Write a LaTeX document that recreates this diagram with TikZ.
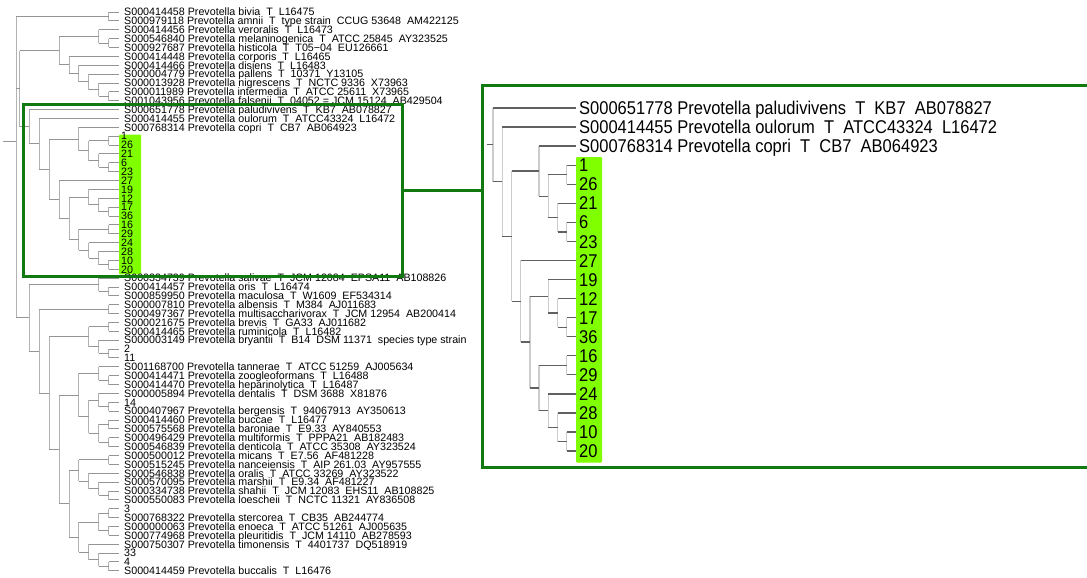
\documentclass[tikz,border=0pt]{standalone}
\usepackage{fontspec}
\setmainfont{Liberation Sans}
\usetikzlibrary{calc,fit}
\definecolor{framegreen}{HTML}{107A10}
\definecolor{hilite}{HTML}{80FF00}
\newcommand\dsp{\ \ }
\newcommand\tallR[1]{\scalebox{1}[1.12]{#1}}
% binary tree node: #1 panel (L/R), #2 name, #3 x, #4 child a, #5 child b
\newcommand\bnode[5]{%
  \path let \p1=($(#4)!0.5!(#5)$) in (#3pt,\y1) coordinate (#2);
  \draw[vline#1] (#2 |- #4) -- (#2 |- #5);
  \draw[hline#1] (#2 |- #4) -- (#4);
  \draw[hline#1] (#2 |- #5) -- (#5);
}
\tikzset{
  hlineL/.style={draw=black!42, line width=0.9pt},
  vlineL/.style={draw=black!30, line width=0.9pt},
  hlineR/.style={draw=black!62, line width=1.3pt},
  vlineR/.style={draw=black!20, line width=1.3pt},
  leafL/.style={anchor=west, inner ysep=0pt, inner xsep=5.5pt, text height=7.6pt, text depth=0pt,
    font=\fontsize{10.7}{11}\selectfont, text=black},
  numL/.style={leafL, inner xsep=2.5pt},
  leafR/.style={anchor=west, inner ysep=0pt, inner xsep=3pt, text height=13.2pt, text depth=0pt,
    font=\fontsize{16.5}{18}\selectfont, text=black},
  zoomframe/.style={draw=framegreen, line width=3pt, inner sep=0pt},
  zoomline/.style={draw=framegreen, line width=3pt},
  hilitebox/.style={fill=hilite, rounded corners=1pt}
}
\begin{document}
\begin{tikzpicture}[x=1pt,y=-1pt]
\useasboundingbox (0,0) rectangle (1087,578);
\clip (0,0) rectangle (1087,578);
\fill[white] (0,0) rectangle (1087,578);

% highlight bars
\fill[hilitebox] (119,134.5) rectangle (141,274.3);
\fill[hilitebox] (576,157) rectangle (602,462.5);

% ---------------- left tree: leaves ----------------
\foreach \lab [count=\i] in {
 S000414458 Prevotella bivia\dsp T\dsp L16475,
 S000979118 Prevotella amnii\dsp T\dsp type strain\dsp CCUG 53648\dsp AM422125,
 S000414456 Prevotella veroralis\dsp T\dsp L16473,
 S000546840 Prevotella melaninogenica\dsp T\dsp ATCC 25845\dsp AY323525,
 S000927687 Prevotella histicola\dsp T\dsp T05−04\dsp EU126661,
 S000414448 Prevotella corporis\dsp T\dsp L16465,
 S000414466 Prevotella disiens\dsp T\dsp L16483,
 S000004779 Prevotella pallens\dsp T\dsp 10371\dsp Y13105,
 S000013928 Prevotella nigrescens\dsp T\dsp NCTC 9336\dsp X73963,
 S000011989 Prevotella intermedia\dsp T\dsp ATCC 25611\dsp X73965,
 S001043956 Prevotella falsenii\dsp T\dsp 04052 = JCM 15124\dsp AB429504,
 S000651778 Prevotella paludivivens\dsp T\dsp KB7\dsp AB078827,
 S000414455 Prevotella oulorum\dsp T\dsp ATCC43324\dsp L16472,
 S000768314 Prevotella copri\dsp T\dsp CB7\dsp AB064923}
  \node[leafL] (L\i) at (118.5,{12+(\i-1)*8.87}) {\lab};
\foreach \lab [count=\i from 15] in {1,26,21,6,23,27,19,12,17,36,16,29,24,28,10,20}
  \node[numL] (L\i) at (118.5,{12+(\i-1)*8.87}) {\lab};
\foreach \lab [count=\i from 31] in {
 S000334739 Prevotella salivae\dsp T\dsp JCM 12084\dsp EPSA11\dsp AB108826,
 S000414457 Prevotella oris\dsp T\dsp L16474,
 S000859950 Prevotella maculosa\dsp T\dsp W1609\dsp EF534314,
 S000007810 Prevotella albensis\dsp T\dsp M384\dsp AJ011683,
 S000497367 Prevotella multisaccharivorax\dsp T\dsp JCM 12954\dsp AB200414,
 S000021675 Prevotella brevis\dsp T\dsp GA33\dsp AJ011682,
 S000414465 Prevotella ruminicola\dsp T\dsp L16482,
 S000003149 Prevotella bryantii\dsp T\dsp B14\dsp DSM 11371\dsp species type strain,
 2,
 11,
 S001168700 Prevotella tannerae\dsp T\dsp ATCC 51259\dsp AJ005634,
 S000414471 Prevotella zoogleoformans\dsp T\dsp L16488,
 S000414470 Prevotella heparinolytica\dsp T\dsp L16487,
 S000005894 Prevotella dentalis\dsp T\dsp DSM 3688\dsp X81876,
 14,
 S000407967 Prevotella bergensis\dsp T\dsp 94067913\dsp AY350613,
 S000414460 Prevotella buccae\dsp T\dsp L16477,
 S000575568 Prevotella baroniae\dsp T\dsp E9.33\dsp AY840553,
 S000496429 Prevotella multiformis\dsp T\dsp PPPA21\dsp AB182483,
 S000546839 Prevotella denticola\dsp T\dsp ATCC 35308\dsp AY323524,
 S000500012 Prevotella micans\dsp T\dsp E7.56\dsp AF481228,
 S000515245 Prevotella nanceiensis\dsp T\dsp AIP 261.03\dsp AY957555,
 S000546838 Prevotella oralis\dsp T\dsp ATCC 33269\dsp AY323522,
 S000570095 Prevotella marshii\dsp T\dsp E9.34\dsp AF481227,
 S000334738 Prevotella shahii\dsp T\dsp JCM 12083\dsp EHS11\dsp AB108825,
 S000550083 Prevotella loescheii\dsp T\dsp NCTC 11321\dsp AY836508,
 3,
 S000768322 Prevotella stercorea\dsp T\dsp CB35\dsp AB244774,
 S000000063 Prevotella enoeca\dsp T\dsp ATCC 51261\dsp AJ005635,
 S000774968 Prevotella pleuritidis\dsp T\dsp JCM 14110\dsp AB278593,
 S000750307 Prevotella timonensis\dsp T\dsp 4401737\dsp DQ518919,
 33,
 4,
 S000414459 Prevotella buccalis\dsp T\dsp L16476}
  \node[leafL] (L\i) at (118.5,{12+(\i-1)*8.87}) {\lab};

% ---------------- left tree: internal nodes ----------------
\bnode{L}{a1}{108.6}{L1.west}{L2.west}
% clade B
\bnode{L}{b1}{108.6}{L4.west}{L5.west}
\bnode{L}{b2}{98.7}{L3.west}{b1}
\bnode{L}{b3}{108.6}{L10.west}{L11.west}
\bnode{L}{b4}{98.7}{L9.west}{b3}
\bnode{L}{b5}{88.8}{L8.west}{b4}
\bnode{L}{b6}{78.9}{L7.west}{b5}
\bnode{L}{b7}{69.0}{L6.west}{b6}
\bnode{L}{cladeB}{59.1}{b2}{b7}
% clade C (framed)
\bnode{L}{Lc1}{108.6}{L15.west}{L16.west}
\bnode{L}{Lc2}{108.6}{L18.west}{L19.west}
\bnode{L}{Lc3}{98.7}{L17.west}{Lc2}
\bnode{L}{Lc4}{88.8}{Lc1}{Lc3}
\bnode{L}{Lc5}{78.9}{L14.west}{Lc4}
\bnode{L}{Lc6}{108.6}{L23.west}{L24.west}
\bnode{L}{Lc7}{98.7}{L22.west}{Lc6}
\bnode{L}{Lc8}{88.8}{L21.west}{Lc7}
\bnode{L}{Lc9}{108.6}{L25.west}{L26.west}
\bnode{L}{Lc10}{108.6}{L29.west}{L30.west}
\bnode{L}{Lc11}{98.7}{L28.west}{Lc10}
\bnode{L}{Lc12}{88.8}{L27.west}{Lc11}
\bnode{L}{Lc13}{78.9}{Lc9}{Lc12}
\bnode{L}{Lc14}{69.0}{Lc8}{Lc13}
\bnode{L}{Lc15}{59.1}{L20.west}{Lc14}
\bnode{L}{Lc16}{49.2}{Lc5}{Lc15}
\bnode{L}{Lc17}{39.3}{L13.west}{Lc16}
\bnode{L}{cladeC}{29.4}{L12.west}{Lc17}
\bnode{L}{nBC}{19.5}{cladeB}{cladeC}
% clade D
\bnode{L}{d1}{108.6}{L32.west}{L33.west}
\bnode{L}{d2}{98.7}{L31.west}{d1}
\bnode{L}{d3}{108.6}{L34.west}{L35.west}
\bnode{L}{d4}{108.6}{L36.west}{L37.west}
\bnode{L}{d5}{108.6}{L39.west}{L40.west}
\bnode{L}{d6}{98.7}{L38.west}{d5}
\bnode{L}{d7}{88.8}{d4}{d6}
\bnode{L}{d8}{108.6}{L42.west}{L43.west}
\bnode{L}{d9}{98.7}{L41.west}{d8}
\bnode{L}{d10}{108.6}{L45.west}{L46.west}
\bnode{L}{d11}{98.7}{L44.west}{d10}
\bnode{L}{d12}{108.6}{L47.west}{L48.west}
\bnode{L}{d13}{108.6}{L49.west}{L50.west}
\bnode{L}{d14}{98.7}{d12}{d13}
\bnode{L}{d15}{88.8}{d11}{d14}
\bnode{L}{d16}{78.9}{d9}{d15}
\bnode{L}{d17}{108.6}{L51.west}{L52.west}
\bnode{L}{d18}{108.6}{L55.west}{L56.west}
\bnode{L}{d19}{98.7}{L54.west}{d18}
\bnode{L}{d20}{88.8}{L53.west}{d19}
\bnode{L}{d21}{78.9}{d17}{d20}
\bnode{L}{d22}{108.6}{L57.west}{L58.west}
\bnode{L}{d23}{108.6}{L59.west}{L60.west}
\bnode{L}{d24}{98.7}{d22}{d23}
\bnode{L}{d25}{108.6}{L63.west}{L64.west}
\bnode{L}{d26}{98.7}{L62.west}{d25}
\bnode{L}{d27}{88.8}{L61.west}{d26}
\bnode{L}{d28}{78.9}{d24}{d27}
\bnode{L}{d29}{69.0}{d21}{d28}
\bnode{L}{d30}{59.1}{d16}{d29}
\bnode{L}{d31}{49.2}{d7}{d30}
\bnode{L}{d32}{39.3}{d3}{d31}
\bnode{L}{cladeD}{29.4}{d2}{d32}
% root (trichotomy)
\path let \p1=($0.3333*(a1)+0.3333*(nBC)+0.3334*(cladeD)$) in (16pt,\y1) coordinate (root);
\coordinate (rootend) at (3,0);
\draw[vlineL] (root |- a1) -- (root |- cladeD);
\draw[hlineL] (root |- a1) -- (a1);
\draw[hlineL] (root |- nBC) -- (nBC);
\draw[hlineL] (root |- cladeD) -- (cladeD);
\draw[hlineL] (rootend |- root) -- (root);

% ---------------- right (zoomed) tree ----------------
\node[leafR] (R12) at (576,108) {\tallR{S000651778 Prevotella paludivivens\dsp T\dsp KB7\dsp AB078827}};
\node[leafR] (R13) at (576,{108+19.06}) {\tallR{S000414455 Prevotella oulorum\dsp T\dsp ATCC43324\dsp L16472}};
\node[leafR] (R14) at (576,{108+2*19.06}) {\tallR{S000768314 Prevotella copri\dsp T\dsp CB7\dsp AB064923}};
\foreach \lab [count=\i from 15] in {1,26,21,6,23,27,19,12,17,36,16,29,24,28,10,20}
  \node[leafR] (R\i) at (576,{108+(\i-12)*19.06}) {\tallR{\lab}};

\bnode{R}{Rc1}{566.8}{R15.west}{R16.west}
\bnode{R}{Rc2}{566.8}{R18.west}{R19.west}
\bnode{R}{Rc3}{557.6}{R17.west}{Rc2}
\bnode{R}{Rc4}{548.3}{Rc1}{Rc3}
\bnode{R}{Rc5}{539.1}{R14.west}{Rc4}
\bnode{R}{Rc6}{566.8}{R23.west}{R24.west}
\bnode{R}{Rc7}{557.6}{R22.west}{Rc6}
\bnode{R}{Rc8}{548.3}{R21.west}{Rc7}
\bnode{R}{Rc9}{566.8}{R25.west}{R26.west}
\bnode{R}{Rc10}{566.8}{R29.west}{R30.west}
\bnode{R}{Rc11}{557.6}{R28.west}{Rc10}
\bnode{R}{Rc12}{548.3}{R27.west}{Rc11}
\bnode{R}{Rc13}{539.1}{Rc9}{Rc12}
\bnode{R}{Rc14}{529.9}{Rc8}{Rc13}
\bnode{R}{Rc15}{520.7}{R20.west}{Rc14}
\bnode{R}{Rc16}{511.5}{Rc5}{Rc15}
\bnode{R}{Rc17}{502.2}{R13.west}{Rc16}
\bnode{R}{RcladeC}{493.0}{R12.west}{Rc17}
\coordinate (Rrootend) at (487,0);
\draw[hlineR] (Rrootend |- RcladeC) -- (RcladeC);

% ---------------- zoom frames and connector ----------------
\coordinate (srcNW) at (23,104);
\coordinate (srcSE) at (402.7,276.7);
\coordinate (dstNW) at (482,85);
\coordinate (dstSE) at (1100,467.7);
\node[zoomframe, fit=(srcNW)(srcSE)] (zoomsrc) {};
\node[zoomframe, fit=(dstNW)(dstSE)] (zoomdst) {};
\draw[zoomline] (zoomsrc.east) -- (zoomsrc.east -| zoomdst.west);
\end{tikzpicture}
\end{document}
